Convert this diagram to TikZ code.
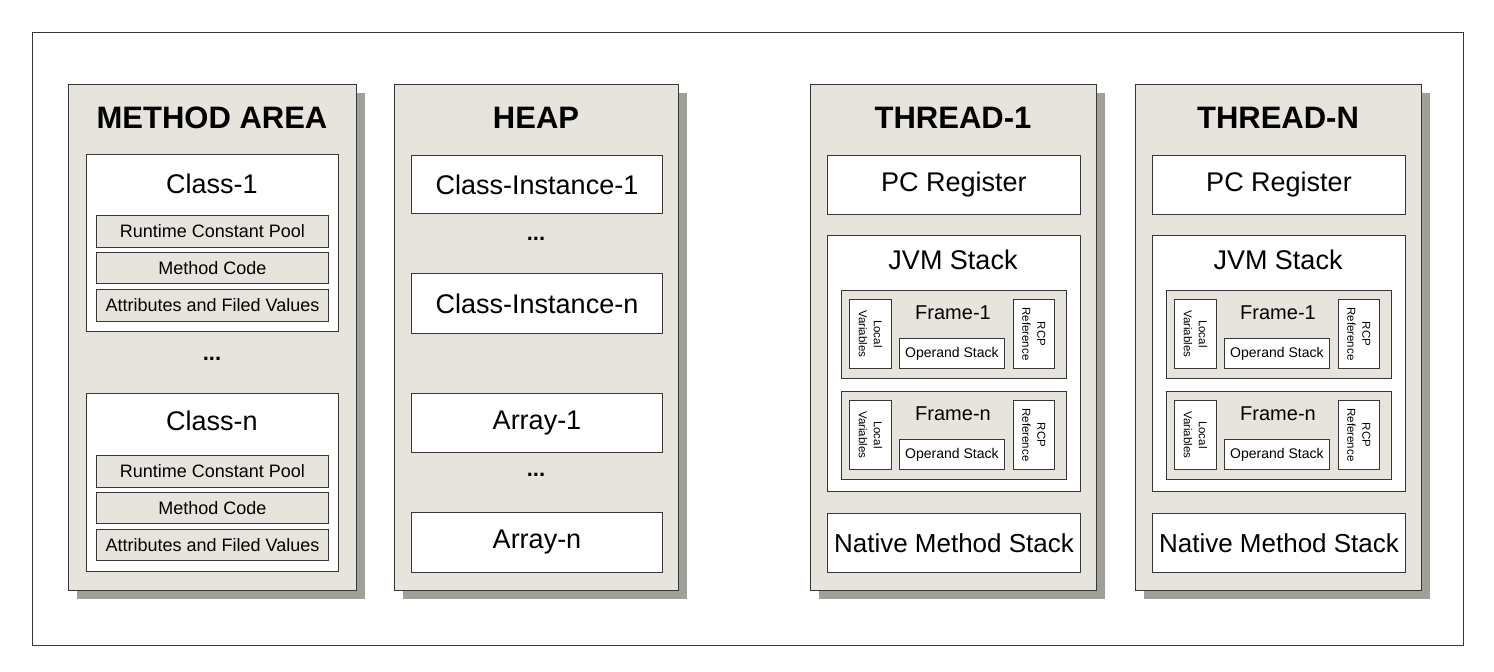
\documentclass[tikz,border=0pt]{standalone}
\usepackage{fontspec}
\setmainfont{Liberation Sans}
\usetikzlibrary{shadows}

\definecolor{panelgray}{RGB}{230,228,221}
\definecolor{shadegray}{RGB}{160,160,155}
\definecolor{linegray}{RGB}{55,55,55}

\tikzset{
  panel/.style={draw=linegray, line width=1.1pt, fill=panelgray, anchor=north west, inner sep=0pt,
    drop shadow={shadow xshift=8pt, shadow yshift=-8pt, fill=shadegray, opacity=1}},
  bigbox/.style={draw=linegray, line width=1pt, fill=white, anchor=north west, inner sep=0pt,
    font=\fontsize{27}{30}\selectfont},
  rowbox/.style={draw=linegray, line width=0.9pt, fill=panelgray, anchor=north west, inner sep=0pt,
    font=\fontsize{18}{20}\selectfont},
  framebox/.style={draw=linegray, line width=0.9pt, fill=panelgray, anchor=north west, inner sep=0pt},
  smallbox/.style={draw=linegray, line width=0.8pt, fill=white, anchor=north west, inner sep=0pt,
    font=\fontsize{14}{16}\selectfont},
  paneltitle/.style={font=\bfseries\fontsize{31}{34}\selectfont},
  boxlabel/.style={font=\fontsize{27}{30}\selectfont},
  framelabel/.style={font=\fontsize{20}{22}\selectfont},
  dotsign/.style={font=\bfseries\fontsize{22}{24}\selectfont},
  vtext/.style={rotate=-90, align=center, font=\fontsize{11.5}{15}\selectfont},
}

\begin{document}
\begin{tikzpicture}[x=1pt,y=-1pt]
  \useasboundingbox (0,0) rectangle (1494,672);

  % outer frame
  \node[draw=linegray, line width=1.4pt, anchor=north west, minimum width=1431, minimum height=613, inner sep=0pt] (outer) at (32,32) {};

  % method area
  \node[panel, minimum width=288, minimum height=506] (ma) at (68,84) {};
  \node[paneltitle] (ma-title) at (212,118) {METHOD AREA};

  \node[bigbox, minimum width=252, minimum height=177] (cls1) at (86,154) {};
  \node[boxlabel] (cls1-name) at (212,184) {Class-1};
  \node[rowbox, minimum width=232, minimum height=32] (cls1-rcp) at (96,215) {Runtime Constant Pool};
  \node[rowbox, minimum width=232, minimum height=31] (cls1-code) at (96,252) {Method Code};
  \node[rowbox, minimum width=232, minimum height=32] (cls1-attr) at (96,289) {Attributes and Filed Values};

  \node[dotsign] (ma-dots) at (212,359) {...};

  \node[bigbox, minimum width=252, minimum height=178] (clsn) at (86,393) {};
  \node[boxlabel] (clsn-name) at (212,421) {Class-n};
  \node[rowbox, minimum width=232, minimum height=32] (clsn-rcp) at (96,455) {Runtime Constant Pool};
  \node[rowbox, minimum width=232, minimum height=31] (clsn-code) at (96,492) {Method Code};
  \node[rowbox, minimum width=232, minimum height=31] (clsn-attr) at (96,529) {Attributes and Filed Values};

  % heap
  \node[panel, minimum width=284, minimum height=506] (heap) at (394,84) {};
  \node[paneltitle] (heap-title) at (536,118) {HEAP};
  \node[bigbox, minimum width=251, minimum height=58] (ci1) at (411,155) {Class-Instance-1};
  \node[dotsign] (heap-dots1) at (536,239) {...};
  \node[bigbox, minimum width=251, minimum height=60] (cin) at (411,273) {Class-Instance-n};
  \node[bigbox, minimum width=251, minimum height=59] (arr1) at (411,393) {Array-1};
  \node[dotsign] (heap-dots2) at (536,475) {...};
  \node[bigbox, minimum width=251, minimum height=60] (arrn) at (411,512) {Array-n};

  % threads
  \foreach \tx/\tn in {0/1, 325/N}{
    \node[panel, minimum width=286, minimum height=506] (t\tn) at (810+\tx,84) {};
    \node[paneltitle] (t\tn-title) at (953+\tx,118) {THREAD-\tn};
    \node[bigbox, minimum width=253, minimum height=59] (t\tn-pc) at (827+\tx,155) {PC Register};
    \node[bigbox, minimum width=253, minimum height=256] (t\tn-jvm) at (827+\tx,235) {};
    \node[boxlabel] (t\tn-jvm-name) at (953+\tx,260) {JVM Stack};
    \foreach \fy/\fn in {290/1, 391/n}{
      \node[framebox, minimum width=225, minimum height=88] (t\tn-f\fn) at (841+\tx,\fy) {};
      \node[framelabel] (t\tn-f\fn-name) at (953+\tx,\fy+23) {Frame-\fn};
      \node[smallbox, minimum width=42, minimum height=69] (t\tn-f\fn-lv) at (849+\tx,\fy+9) {};
      \node[vtext] (t\tn-f\fn-lvtext) at (t\tn-f\fn-lv.center) {Local\\Variables};
      \node[smallbox, minimum width=105, minimum height=30] (t\tn-f\fn-os) at (899+\tx,\fy+48) {Operand Stack};
      \node[smallbox, minimum width=41, minimum height=69] (t\tn-f\fn-rcp) at (1013+\tx,\fy+9) {};
      \node[vtext] (t\tn-f\fn-rcptext) at (t\tn-f\fn-rcp.center) {RCP\\Reference};
    }
    \node[bigbox, minimum width=253, minimum height=59, font=\fontsize{26}{30}\selectfont] (t\tn-native) at (827+\tx,513) {Native Method Stack};
  }

\end{tikzpicture}
\end{document}
